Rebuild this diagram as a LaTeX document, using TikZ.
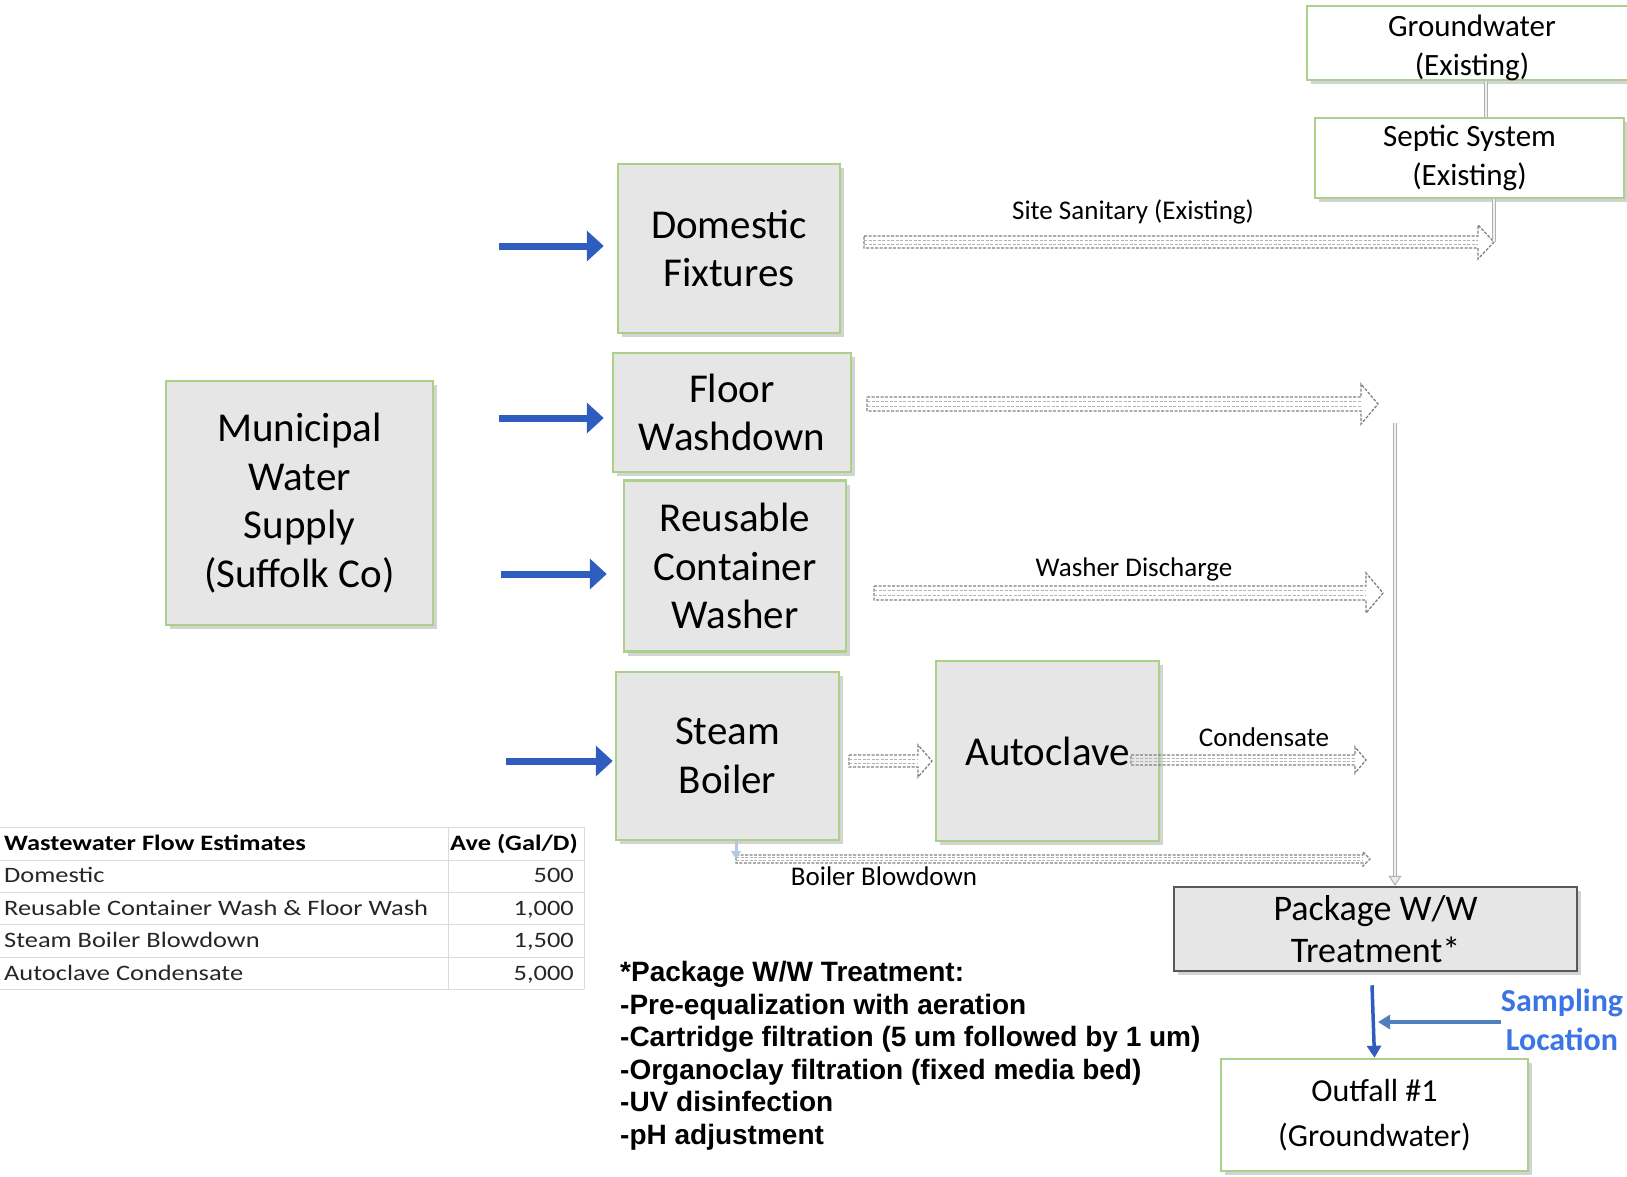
\documentclass[tikz,border=0pt]{standalone}
\usepackage{fontspec}
\setmainfont{Carlito}
\newfontfamily\notefont{Liberation Sans}
\newfontfamily\tabfont[FakeStretch=1.2]{Carlito}
\usepackage{xcolor}
\usepackage{tikz}
\usetikzlibrary{calc,arrows.meta,shadows}
\definecolor{boxfill}{HTML}{E6E6E6}
\definecolor{boxline}{HTML}{ABD08A}
\definecolor{pkgline}{HTML}{595959}
\definecolor{feedc}{HTML}{2F5CBF}
\definecolor{sampc}{HTML}{3B74E4}
\definecolor{samparr}{HTML}{4F81BD}
\definecolor{hollc}{HTML}{808080}
\definecolor{gridc}{HTML}{DADADA}
\definecolor{bdc}{HTML}{B4C8E2}
\newcommand{\bigtxt}{\fontsize{41}{48.5}\selectfont}
\newcommand{\midtxt}{\fontsize{31}{39}\selectfont}
\newcommand{\lbltxt}{\fontsize{27}{32}\selectfont}
\newcommand{\tabtxt}{\tabfont\fontsize{22}{26}\selectfont}
% hollow dashed arrow: from, to, half shaft, half head, head length
\newcommand{\hollow}[5]{%
  \draw[hollarr] ($(#1)+(0,-#3)$) -- ($(#2)+(-#5,-#3)$) -- ($(#2)+(-#5,-#4)$) -- (#2)
    -- ($(#2)+(-#5,#4)$) -- ($(#2)+(-#5,#3)$) -- ($(#1)+(0,#3)$) -- cycle;
  \draw[hollmid] ($(#1)+(0,-#3/3)$) -- ($(#2)+(-#5,-#3/3)$);
  \draw[hollmid] ($(#1)+(0,#3/3)$) -- ($(#2)+(-#5,#3/3)$);}
\tikzset{
  shad/.style={drop shadow={shadow xshift=4pt,shadow yshift=-4pt,opacity=.35}},
  unit/.style={draw=boxline,line width=2.5pt,fill=boxfill,align=center,inner sep=0pt,font=\bigtxt,shad},
  wbox/.style={draw=boxline,line width=2.5pt,fill=white,align=center,inner sep=0pt,font=\midtxt,shad},
  feed/.style={-{Triangle[length=17pt,width=30pt]},line width=7pt,feedc},
  hollarr/.style={draw=hollc,line width=1.3pt,dash pattern=on 3pt off 1.5pt},
  hollmid/.style={draw=hollc!60,line width=1pt,dash pattern=on 3pt off 1.5pt},
  link/.style={draw=gray!60,double=gray!12,double distance=2.5pt,line width=1pt},
  lbl/.style={font=\lbltxt,inner sep=0pt}
}
\begin{document}
\begin{tikzpicture}[x=1pt,y=-1pt]
\useasboundingbox (0,0) rectangle (1627,1176);
% process boxes
\node[unit,minimum width=267pt,minimum height=244pt] (muni) at (299.5,503) {Municipal\\Water\\Supply\\(Suffolk Co)};
\node[unit,minimum width=222pt,minimum height=169pt] (dom) at (729,248.5) {Domestic\\Fixtures};
\node[unit,minimum width=238pt,minimum height=119pt] (floor) at (732,412.5) {Floor\\Washdown};
\node[unit,minimum width=222pt,minimum height=171pt] (reuse) at (735,566) {Reusable\\Container\\Washer};
\node[unit,minimum width=223pt,minimum height=168pt] (steam) at (727.5,756) {Steam\\Boiler};
\node[unit,minimum width=223pt,minimum height=180pt] (auto) at (1047.5,751) {Autoclave};
\node[wbox,minimum width=330pt,minimum height=74pt] (gw) at (1472,43)
  {\raisebox{-11pt}[0pt][0pt]{\begin{tabular}{@{}c@{}}Groundwater\\(Existing)\end{tabular}}};
\node[wbox,minimum width=309pt,minimum height=80pt] (septic) at (1469.5,158) {Septic System\\(Existing)};
\node[unit,draw=pkgline,font=\fontsize{36}{42.5}\selectfont,minimum width=403pt,minimum height=84pt] (pkg) at (1375.5,929) {Package W/W\\Treatment*};
\node[wbox,font=\fontsize{32}{45.5}\selectfont,minimum width=307pt,minimum height=112pt] (out) at (1374.5,1115) {Outfall \#1\\(Groundwater)};

% water feeds
\coordinate (inD) at (499,246);
\coordinate (inF) at (499,418);
\coordinate (inR) at (501,574);
\coordinate (inS) at (506,761);
\draw[feed,shorten >=13pt] (inD) -- (inD -| dom.west);
\draw[feed,shorten >=8pt] (inF) -- (inF -| floor.west);
\draw[feed,shorten >=16pt] (inR) -- (inR -| reuse.west);
\draw[feed,shorten >=2pt] (inS) -- (inS -| steam.west);

% discharges
\coordinate (sanS) at (864,242);  \coordinate (sanE) at (1494,242);
\coordinate (flrS) at (867,404);  \coordinate (flrE) at (1378,404);
\coordinate (wshS) at (874,593);  \coordinate (wshE) at (1383,593);
\coordinate (staS) at (849,761);  \coordinate (staE) at (932,761);
\coordinate (conS) at (1131,760); \coordinate (conE) at (1366,760);
\coordinate (bdS) at (736,859);   \coordinate (bdE) at (1370,859);
\hollow{sanS}{sanE}{6}{17}{16}
\hollow{flrS}{flrE}{7}{20}{17}
\hollow{wshS}{wshE}{7}{20}{17}
\hollow{staS}{staE}{6}{16}{14}
\hollow{conS}{conE}{5}{13}{11}
\hollow{bdS}{bdE}{4}{7}{7}
\draw[bdc,line width=3pt,-{Triangle[length=8pt,width=10pt]}] ($(steam.south)+(8.5,0)$) -- (bdS);

\node[lbl] (sanL) at (1133,212) {Site Sanitary (Existing)};
\node[lbl] (wshL) at (1134,569) {Washer Discharge};
\node[lbl] (conL) at (1264,737) {Condensate};
\node[lbl] (bdL) at (884,876) {Boiler Blowdown};

% existing septic
\draw[link] ($(gw.south)+(14,0)$) -- ($(septic.north)+(16.5,0)$);
\draw[link] (septic.south -| sanE) -- (sanE);

% collector to package
\coordinate (colT) at (1395,423);
\draw[link,-{Triangle[length=10pt,width=13pt,fill=gray!15]}] (colT) -- (colT |- pkg.north);

% outfall
\draw[feedc,line width=3.5pt,-{Triangle[length=12pt,width=14pt]}] ($(pkg.south)+(-3.5,13)$) -- (out.north);
\node[font=\fontsize{32}{38.5}\selectfont\bfseries,text=sampc,align=center,inner sep=0pt] (samp) at (1562,1020) {Sampling\\Location};
\draw[samparr,line width=3.5pt,-{Triangle[length=12pt,width=14pt]}] (1501,1022) -- (1378,1022);

% flow table
\foreach \yy in {827,860,892,924,957,989} \draw[gridc,line width=1pt] (0,\yy) -- (584,\yy);
\foreach \xx in {448,584} \draw[gridc,line width=1pt] (\xx,827) -- (\xx,989);
\node[font=\tabtxt\bfseries,anchor=base west,inner sep=0pt] (thd) at (4,850) {Wastewater Flow Estimates};
\node[font=\tabtxt\bfseries,anchor=base east,inner sep=0pt] (tva) at (578,850) {Ave (Gal/D)};
\foreach \rtxt/\rval [count=\r] in {Domestic/500,{Reusable Container Wash \& Floor Wash/1,000},{Steam Boiler Blowdown/1,500},{Autoclave Condensate/5,000}}{
  \node[font=\tabtxt,anchor=base west,inner sep=0pt,text=black!85] (tl\r) at (4,{850+32.5*\r}) {\rtxt};
  \node[font=\tabtxt,anchor=base east,inner sep=0pt,text=black!85] (tv\r) at (574,{850+32.5*\r}) {\rval};
}

% treatment note
\node[font=\notefont\bfseries\fontsize{28}{32.5}\selectfont,align=left,anchor=north west,inner sep=0pt] (note) at (620,961)
  {*Package W/W Treatment:\\-Pre-equalization with aeration\\-Cartridge filtration (5 um followed by 1 um)\\-Organoclay filtration (fixed media bed)\\-UV disinfection\\-pH adjustment};
\end{tikzpicture}
\end{document}
